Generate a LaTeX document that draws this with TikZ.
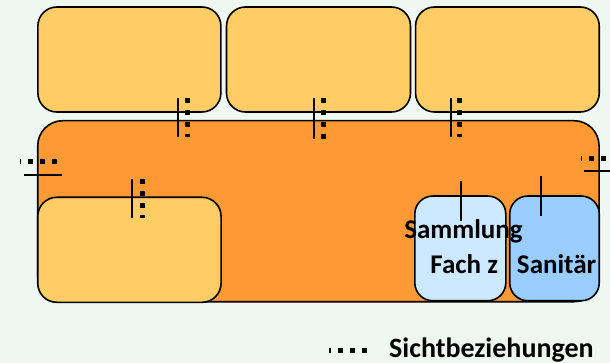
\documentclass[tikz,border=0pt]{standalone}
\usepackage{fontspec}
\setmainfont{Carlito}
\definecolor{bgc}{RGB}{238,247,242}
\definecolor{lorange}{RGB}{255,204,102}
\definecolor{dorange}{RGB}{255,153,51}
\definecolor{lblue}{RGB}{204,233,255}
\definecolor{mblue}{RGB}{153,204,255}
\tikzset{
  room/.style={draw=black, line width=1.6pt, rounded corners=19pt, inner sep=0pt},
  solidmark/.style={draw=black, line width=2pt},
  sightmark/.style={draw=black, line width=5pt, dash pattern=on 5pt off 7pt},
  lbl/.style={font=\bfseries\fontsize{27}{30}\selectfont, inner sep=0pt, text=black},
  leglbl/.style={font=\bfseries\fontsize{28}{31}\selectfont, inner sep=0pt, text=black}
}
\begin{document}
\begin{tikzpicture}[x=1pt,y=-1pt]
\fill[bgc] (0,0) rectangle (610,363);
\useasboundingbox (0,0) rectangle (610,363);
% top rooms
\node (t1) [room, fill=lorange, minimum width=183pt, minimum height=105pt] at (129.4,59.5) {};
\node (t2) [room, fill=lorange, minimum width=184pt, minimum height=105pt] at (318.5,59.5) {};
\node (t3) [room, fill=lorange, minimum width=183.7pt, minimum height=105pt] at (507.4,59.5) {};
% hall
\node (hall) [room, fill=dorange, rounded corners=25pt, minimum width=561.3pt, minimum height=181pt] at (318.4,211.2) {};
% bottom rooms
\node (bl) [room, fill=lorange, minimum width=183.3pt, minimum height=105pt] at (129.4,249.8) {};
\node (sam) [room, fill=lblue, rounded corners=18pt, minimum width=91pt, minimum height=104.7pt] at (460.3,248.4) {};
\node (san) [room, fill=mblue, rounded corners=18pt, minimum width=89.5pt, minimum height=104.7pt] at (554.5,248.4) {};
% labels
\node (l1) [lbl] at (463.5,231.7) {Sammlung};
\node (l2) [lbl] at (464.2,264) {Fach z};
\node (l3) [lbl] at (556.6,264) {Sanitär};
% sight markers between top rooms and hall
\draw[solidmark] (177.8,98) -- (177.8,137.5);
\draw[sightmark] (187,98) -- (187,137.5);
\draw[solidmark] (314.4,98) -- (314.4,139);
\draw[sightmark] (323,98) -- (323,139);
\draw[solidmark] (451.4,98) -- (451.4,137.5);
\draw[sightmark] (459.5,98) -- (459.5,137.5);
% bottom-left room
\draw[solidmark] (132.3,179) -- (132.3,218.3);
\draw[sightmark] (142,179.2) -- (142,218.3);
% left and right outside
\draw[solidmark] (24,174.7) -- (61.5,174.7);
\draw[sightmark, dash phase=3.5pt] (19.5,161.7) -- (58.5,161.7);
\draw[solidmark] (584,171.3) -- (610,171.3);
\draw[sightmark, dash phase=3.5pt] (580.5,158.7) -- (610,158.7);
% plain marks
\draw[solidmark] (460.7,181) -- (460.7,220.7);
\draw[solidmark] (541,176) -- (541,215.7);
% legend
\draw[sightmark, dash phase=3.5pt] (329,350.5) -- (368,350.5);
\node (leg) [leglbl, anchor=west] at (389,350) {Sichtbeziehungen};
\end{tikzpicture}
\end{document}
